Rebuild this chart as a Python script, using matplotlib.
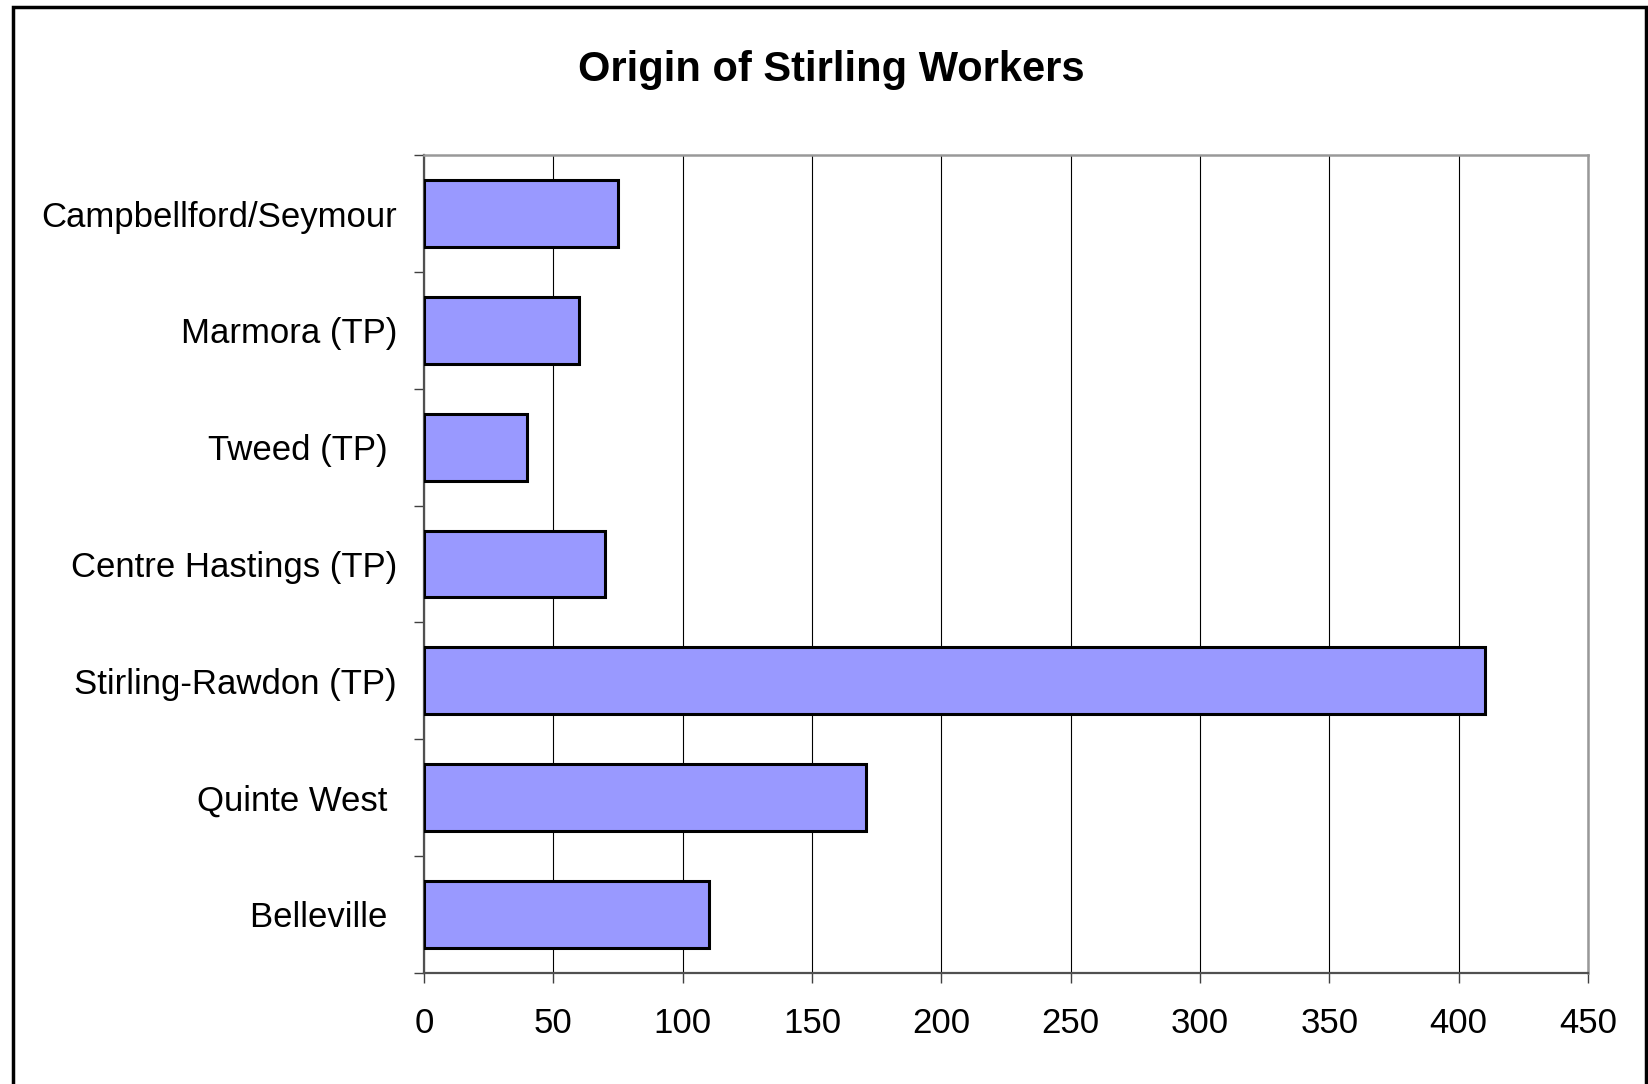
import matplotlib
matplotlib.use("Agg")
import matplotlib.pyplot as plt
from matplotlib.patches import Rectangle
import numpy as np

categories = ["Campbellford/Seymour", "Marmora (TP)", "Tweed (TP) ", "Centre Hastings (TP)",
              "Stirling-Rawdon (TP)", "Quinte West ", "Belleville "]
values = [75, 60, 40, 70, 410, 171, 110]
xticks = [0, 50, 100, 150, 200, 250, 300, 350, 400, 450]
title = "Origin of Stirling Workers"

plt.rcParams['font.family'] = ['Liberation Sans', 'DejaVu Sans']

W, H = 1649, 1084
fig = plt.figure(figsize=(W / 100, H / 100), dpi=100)
fig.patch.set_facecolor("white")

ax = fig.add_axes([424 / W, 111.3 / H, (1588 - 424) / W, (972.7 - 155.3) / H])

n = len(categories)
pos = np.arange(n)[::-1]
ax.barh(pos, values, height=0.57, color="#9999FF", edgecolor="black", linewidth=2.2, zorder=3)

ax.set_xlim(0, 450)
ax.set_ylim(-0.5, n - 0.5)
ax.set_xticks(xticks)
ax.set_xticklabels([str(t) for t in xticks], fontsize=25)
ax.set_yticks(pos)
ax.set_yticklabels(categories, fontsize=25)
ax.set_yticks(np.arange(-0.5, n, 1.0), minor=True)

ax.tick_params(axis='y', which='major', length=0, pad=19.5)
ax.tick_params(axis='y', which='minor', length=7.5, width=1.0, color="#404040")
ax.tick_params(axis='x', which='major', length=7.5, width=1.0, color="#404040", pad=17)

ax.grid(axis='x', color="black", linewidth=0.8, zorder=0)
ax.set_axisbelow(True)

for side in ["top", "right"]:
    ax.spines[side].set_color("#999999")
    ax.spines[side].set_linewidth(1.8)
for side in ["left", "bottom"]:
    ax.spines[side].set_color("#505050")
    ax.spines[side].set_linewidth(1.6)

fig.text(831 / W, 1 - 70 / H, title, ha="center", va="center", fontsize=30, fontweight="bold")

fig.patches.append(Rectangle((13 / W, -10 / H), (1646 - 13) / W, (1077 + 10) / H,
                             transform=fig.transFigure, fill=False, edgecolor="black",
                             linewidth=2.5, zorder=10))

fig.savefig("out.png", dpi=100)
